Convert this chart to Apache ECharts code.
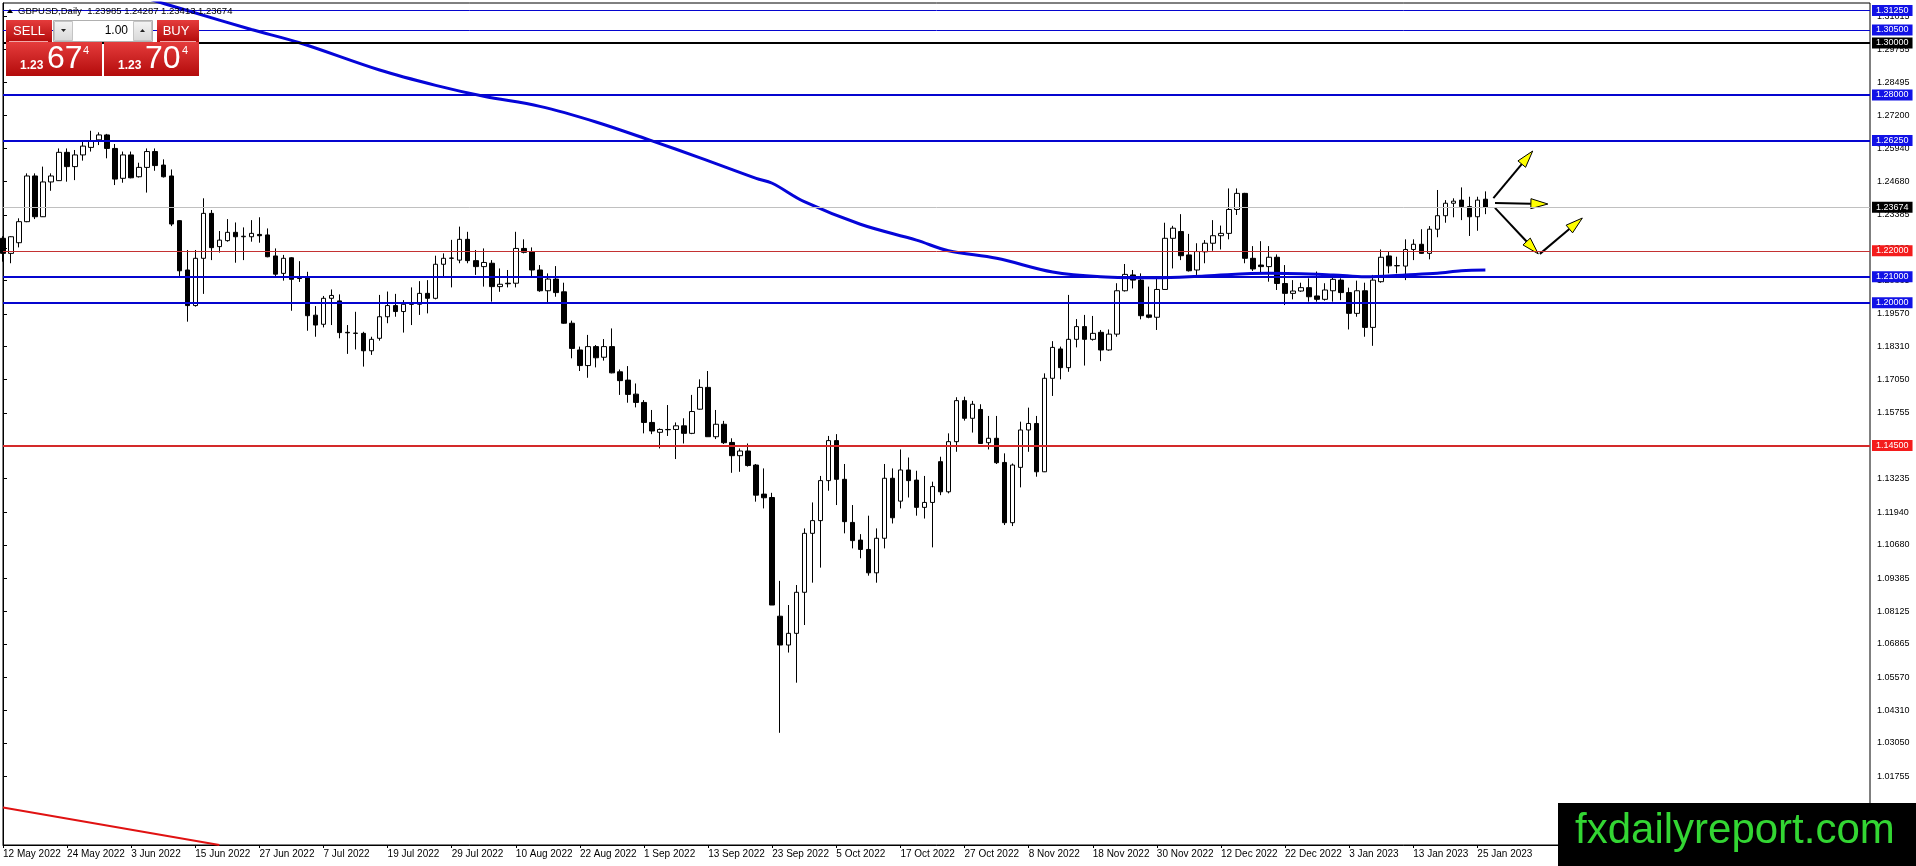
<!DOCTYPE html>
<html>
<head>
<meta charset="utf-8">
<script src="https://cdn.jsdelivr.net/npm/echarts@6.0.0/dist/echarts.min.js"></script>
<style>html,body{margin:0;padding:0;background:#fff;}#chart{width:1916px;height:866px;}</style>
</head>
<body>
<div id="chart"></div>
<script>
// ---------------- data ----------------
const startDate = '2022-05-12';
const slotCount = 234; // bars + empty right shift area
const opens = [1.2248,1.2190,1.2231,1.2312,1.2488,1.2331,1.2465,1.2470,1.2579,1.2524,
1.2569,1.2598,1.2627,1.2646,1.2594,1.2479,1.2569,1.2485,1.2521,1.2582,
1.2530,1.2488,1.2316,1.2126,1.1989,1.2171,1.2344,1.2216,1.2239,1.2271,
1.2254,1.2254,1.2263,1.2261,1.2180,1.2113,1.2173,1.2098,1.2098,1.1952,
1.1917,1.2017,1.2007,1.1886,1.1883,1.1882,1.1815,1.1863,1.1946,1.1989,
1.1966,1.1994,1.1994,1.2036,1.2017,1.2148,1.2171,1.2164,1.2244,1.2162,
1.2139,1.2152,1.2062,1.2075,1.2075,1.2209,1.2196,1.2126,1.2046,1.2091,
1.2042,1.1921,1.1818,1.1758,1.1831,1.1790,1.1831,1.1734,1.1702,1.1648,
1.1616,1.1539,1.1501,1.1512,1.1512,1.1526,1.1497,1.1590,1.1674,1.1484,
1.1532,1.1462,1.1411,1.1429,1.1375,1.1263,1.1250,1.0793,1.0682,1.0727,
1.0885,1.1112,1.1161,1.1315,1.1469,1.1320,1.1154,1.1086,1.1050,1.0960,
1.1093,1.1324,1.1236,1.1356,1.1317,1.1212,1.1231,1.1388,1.1272,1.1465,
1.1623,1.1555,1.1589,1.1461,1.1478,1.1385,1.1153,1.1366,1.1510,1.1535,
1.1349,1.1709,1.1822,1.1750,1.1859,1.1908,1.1859,1.1886,1.1818,1.1879,
1.2046,1.2107,1.2087,1.1953,1.1944,1.2051,1.2248,1.2274,1.2184,1.2126,
1.2196,1.2229,1.2258,1.2267,1.2359,1.2421,1.2171,1.2145,1.2139,1.2175,
1.2074,1.2036,1.2045,1.2058,1.2026,1.2013,1.2046,1.2087,1.2039,1.1959,
1.2046,1.1905,1.2081,1.2180,1.2142,1.2141,1.2205,1.2225,1.2190,1.2283,
1.2335,1.2383,1.2395,1.2370,1.2331,1.23985];
const highs = [1.2256,1.2256,1.2325,1.2498,1.2498,1.2524,1.2498,1.2594,1.2594,1.2588,
1.2620,1.2662,1.2656,1.2650,1.2611,1.2582,1.2582,1.2539,1.2594,1.2594,
1.2552,1.2513,1.2318,1.2203,1.2203,1.2402,1.2357,1.2276,1.2322,1.2309,
1.2290,1.2318,1.2329,1.2286,1.2209,1.2184,1.2175,1.2160,1.2119,1.1987,
1.2026,1.2051,1.2032,1.1914,1.1965,1.1888,1.1869,1.2030,1.2043,1.2034,
1.2010,1.2059,1.2083,1.2087,1.2181,1.2190,1.2242,1.2293,1.2273,1.2203,
1.2209,1.2164,1.2132,1.2126,1.2273,1.2244,1.2213,1.2145,1.2113,1.2141,
1.2077,1.1931,1.1831,1.1876,1.1837,1.1860,1.1901,1.1743,1.1756,1.1689,
1.1625,1.1587,1.1516,1.1606,1.1539,1.1555,1.1645,1.1705,1.1737,1.1587,
1.1545,1.1478,1.1439,1.1458,1.1379,1.1362,1.1268,1.0929,1.0836,1.0913,
1.1131,1.1231,1.1333,1.1487,1.1494,1.1379,1.1221,1.1109,1.1180,1.1131,
1.1379,1.1362,1.1435,1.1404,1.1353,1.1333,1.1311,1.1407,1.1497,1.1636,
1.1638,1.1622,1.1609,1.1564,1.1564,1.1420,1.1381,1.1542,1.1596,1.1564,
1.1728,1.1852,1.1831,1.2030,1.1937,1.1953,1.1949,1.1895,1.1897,1.2075,
1.2149,1.2126,1.2113,1.2062,1.2094,1.2308,1.2296,1.2341,1.2265,1.2229,
1.2241,1.2318,1.2297,1.2440,1.2440,1.2423,1.2218,1.2237,1.2218,1.2186,
1.2145,1.2087,1.2077,1.2094,1.2120,1.2075,1.2100,1.2094,1.2058,1.2085,
1.2077,1.2107,1.2205,1.2196,1.2177,1.2244,1.2244,1.2283,1.2295,1.2434,
1.2395,1.2402,1.2444,1.2408,1.2408,1.24287];
const lows = [1.2158,1.2152,1.2213,1.2310,1.2322,1.2330,1.2431,1.2469,1.2466,1.2472,
1.2547,1.2582,1.2607,1.2556,1.2453,1.2462,1.2479,1.2482,1.2424,1.2508,
1.2482,1.2295,1.2103,1.1927,1.1985,1.2034,1.2164,1.2193,1.2235,1.2154,
1.2164,1.2235,1.2231,1.2175,1.2103,1.2085,1.1969,1.2080,1.1892,1.1869,
1.1905,1.1914,1.1863,1.1803,1.1820,1.1754,1.1799,1.1854,1.1921,1.1946,
1.1885,1.1914,1.1953,1.1959,1.2013,1.2100,1.2059,1.2152,1.2152,1.2107,
1.2062,1.2004,1.2042,1.2059,1.2059,1.2190,1.2100,1.2042,1.2001,1.2023,
1.1919,1.1786,1.1737,1.1711,1.1751,1.1777,1.1728,1.1645,1.1615,1.1597,
1.1497,1.1494,1.1439,1.1487,1.1398,1.1458,1.1494,1.1588,1.1484,1.1475,
1.1456,1.1345,1.1349,1.1369,1.1234,1.1208,1.0836,1.0344,1.0653,1.0537,
1.0759,1.0922,1.0980,1.1276,1.1221,1.1112,1.1054,1.1016,1.0949,1.0922,
1.1054,1.1150,1.1208,1.1250,1.1180,1.1169,1.1058,1.1259,1.1266,1.1426,
1.1546,1.1500,1.1456,1.1435,1.1379,1.1144,1.1140,1.1289,1.1426,1.1330,
1.1348,1.1641,1.1705,1.1734,1.1828,1.1758,1.1854,1.1775,1.1815,1.1869,
1.2043,1.2055,1.1936,1.1940,1.1895,1.2049,1.2132,1.2164,1.2120,1.2107,
1.2152,1.2200,1.2205,1.2244,1.2338,1.2152,1.2122,1.2116,1.2081,1.2049,
1.1991,1.2013,1.2042,1.2004,1.2004,1.2008,1.2004,1.2010,1.1897,1.1946,
1.1869,1.1834,1.2077,1.2113,1.2113,1.2087,1.2164,1.2188,1.2167,1.2252,
1.2308,1.2329,1.2318,1.2257,1.2277,1.2341];
const closes = [1.2190,1.2254,1.2312,1.2488,1.2331,1.2465,1.2488,1.2579,1.2524,1.2569,
1.2603,1.2624,1.2646,1.2594,1.2476,1.2569,1.2481,1.2521,1.2582,1.2528,
1.2485,1.2303,1.2123,1.1989,1.2171,1.2344,1.2212,1.2241,1.2271,1.2254,
1.2256,1.2267,1.2258,1.2177,1.2110,1.2171,1.2090,1.2093,1.1950,1.1914,
1.2017,1.2028,1.1885,1.1884,1.1882,1.1815,1.1859,1.1946,1.1989,1.1966,
1.1994,1.1995,1.2036,1.2017,1.2148,1.2171,1.2172,1.2244,1.2162,1.2139,
1.2155,1.2062,1.2071,1.2073,1.2209,1.2194,1.2126,1.2046,1.2091,1.2039,
1.1921,1.1824,1.1758,1.1831,1.1788,1.1831,1.1730,1.1700,1.1647,1.1616,
1.1539,1.1506,1.1512,1.1511,1.1526,1.1497,1.1581,1.1674,1.1484,1.1532,
1.1461,1.1411,1.1429,1.1373,1.1259,1.1249,1.0836,1.0682,1.0727,1.0885,
1.1112,1.1161,1.1315,1.1469,1.1320,1.1157,1.1084,1.1050,1.0960,1.1093,
1.1324,1.1172,1.1356,1.1315,1.1212,1.1231,1.1292,1.1272,1.1465,1.1623,
1.1555,1.1609,1.1458,1.1478,1.1384,1.1153,1.1375,1.1510,1.1535,1.1349,
1.1709,1.1828,1.1750,1.1859,1.1908,1.1859,1.1882,1.1818,1.1879,1.2046,
1.2109,1.2087,1.1950,1.1944,1.2051,1.2248,1.2287,1.2181,1.2123,1.2197,
1.2229,1.2258,1.2267,1.2359,1.2421,1.2171,1.2130,1.2139,1.2175,1.2074,
1.2036,1.2045,1.2058,1.2023,1.2013,1.2049,1.2090,1.2039,1.1959,1.2046,
1.1905,1.2087,1.2175,1.2142,1.2143,1.2205,1.2225,1.2190,1.2283,1.2335,
1.2383,1.2391,1.2370,1.2331,1.2395,1.23674];
// moving average, [bar index, price]
const maPoints = [[16,1.3190],[23,1.3125],[31,1.3052],[37,1.3001],[47,1.2896],[54,1.2837],[60,1.2795],[67,1.2756],[74,1.2696],[81,1.2623],[87,1.2558],[94,1.2479],[96,1.2460],[100,1.2389],[107,1.2302],[114,1.2241],[118,1.2200],[124,1.2171],[131,1.2118],[137,1.2100],[144,1.2096],[150,1.2103],[158,1.2113],[166,1.2107],[170,1.2100],[175,1.2107],[179,1.2113],[182,1.2123],[185,1.2126]];
const trendLine = [[0,1.0056],[27,0.9912]];
// arrows: [x1, y1, x2, y2] in bar index / price
const arrows = [[186.0,1.2403,190.9,1.2584],[186.2,1.2384,192.8,1.2380],[186.2,1.2365,191.6,1.2188],[191.8,1.2188,197.1,1.2326]];
const levelValues = [1.3125,1.305,1.30,1.28,1.2625,1.23674,1.22,1.21,1.20,1.145];
const yTicks = [1.31015,1.29755,1.28495,1.27200,1.25940,1.24680,1.23385,1.22090,1.20865,1.19570,1.18310,1.17050,1.15755,1.14495,1.13235,1.11940,1.10680,1.09385,1.08125,1.06865,1.05570,1.04310,1.03050,1.01755];
const yMin = 0.9912, yMax = 1.3154;
const lastLabelIndex = 184, labelStep = 8;
const headerText = 'GBPUSD,Daily  1.23985 1.24287 1.23413 1.23674';

// ---------------- build ----------------
const MONTHS = ['Jan','Feb','Mar','Apr','May','Jun','Jul','Aug','Sep','Oct','Nov','Dec'];
const categories = [];
{
  let d = new Date(startDate + 'T00:00:00Z');
  while (categories.length < slotCount) {
    const wd = d.getUTCDay();
    if (wd !== 0 && wd !== 6) categories.push(d.toISOString().slice(0,10));
    d = new Date(d.getTime() + 86400000);
  }
}
function fmtDate(s){ const [y,m,dd] = s.split('-'); return parseInt(dd,10)+' '+MONTHS[parseInt(m,10)-1]+' '+y; }
const candles = opens.map((o,i)=>[o, closes[i], lows[i], highs[i]]);

const FONT = 'Liberation Sans, Arial, sans-serif';
const BLUE = '#0505cf', BLUEBG = '#1212e6', RED = '#d42a2a', REDBG = '#f41c1c';
const levelStyle = [
  {c:BLUE,w:1,bg:BLUEBG},{c:BLUE,w:1,bg:BLUEBG},{c:'#000',w:2,bg:'#000'},{c:BLUE,w:2,bg:BLUEBG},{c:BLUE,w:2,bg:BLUEBG},
  {c:'#c0c0c0',w:1,bg:'#000'},{c:'#c43232',w:1,bg:REDBG},{c:BLUE,w:2,bg:BLUEBG},{c:BLUE,w:2,bg:BLUEBG},{c:RED,w:2,bg:REDBG}
];
const markData = levelValues.map((v,i)=>({
  yAxis: v,
  lineStyle:{color:levelStyle[i].c, width:levelStyle[i].w, type:'solid'},
  label:{show:true, position:'end', distance:2, formatter: v.toFixed(5), color:'#fff', backgroundColor:levelStyle[i].bg,
    fontFamily:FONT, fontSize:9, padding:[1,4,0,4], lineHeight:10}
}));

const redGrad = {type:'linear',x:0,y:0,x2:0,y2:1,colorStops:[{offset:0,color:'#e53c3c'},{offset:1,color:'#b30b0b'}]};
const btnGrad = {type:'linear',x:0,y:0,x2:0,y2:1,colorStops:[{offset:0,color:'#f4f4f4'},{offset:1,color:'#d8d8d8'}]};
const txt = (x,y,t,size,opts)=>Object.assign({type:'text', x:x, y:y, z:100, style:Object.assign({text:t, fill:'#fff', font:size, verticalAlign:'middle', align:'left'}, opts||{})});

const chart = echarts.init(document.getElementById('chart'), null, {renderer:'canvas'});
chart.setOption({
  animation:false,
  backgroundColor:'#fff',
  grid:{left:3, right:46, top:3, bottom:21, show:true, borderColor:'#000', borderWidth:1, backgroundColor:'#fff'},
  xAxis:[{
    type:'category', data:categories, boundaryGap:false,
    axisLine:{show:true, lineStyle:{color:'#000', width:1}},
    axisTick:{show:true, length:3, lineStyle:{color:'#000'}, interval:(i)=> i % labelStep === 0 && i <= lastLabelIndex},
    axisLabel:{show:true, interval:(i)=> i % labelStep === 0 && i <= lastLabelIndex, formatter:(v)=>fmtDate(v),
      align:'left', margin:4, color:'#000', fontFamily:FONT, fontSize:10},
    splitLine:{show:false}
  },{
    type:'value', min:0, max:slotCount-1, show:false
  }],
  yAxis:{
    type:'value', position:'right', min:yMin, max:yMax, scale:true,
    axisLine:{show:true, lineStyle:{color:'#000', width:1}},
    axisTick:{show:true, length:4, inside:false, lineStyle:{color:'#000'}, customValues:yTicks},
    axisLabel:{show:true, customValues:yTicks, formatter:(v)=>v.toFixed(5), margin:7, color:'#000', fontFamily:FONT, fontSize:9},
    splitLine:{show:false}
  },
  series:[
    {
      type:'candlestick', data:candles, xAxisIndex:0, barWidth:5, clip:true,
      itemStyle:{color:'#fff', color0:'#000', borderColor:'#000', borderColor0:'#000', borderWidth:1},
      markLine:{silent:true, precision:5, symbol:['none','none'], animation:false, data:markData}
    },
    {
      type:'line', xAxisIndex:1, data:maPoints, symbol:'none', smooth:0.35, clip:true,
      lineStyle:{color:'#0505d8', width:3}, z:3
    },
    {
      type:'line', xAxisIndex:1, data:trendLine, symbol:'none', clip:true,
      lineStyle:{color:'#e01212', width:2}, z:3
    },
    {
      type:'custom', xAxisIndex:1, data:arrows, z:4, clip:false,
      encode:{x:[0,2], y:[1,3]},
      renderItem:function(params, api){
        const p1 = api.coord([api.value(0), api.value(1)]);
        const p2 = api.coord([api.value(2), api.value(3)]);
        const dx = p2[0]-p1[0], dy = p2[1]-p1[1];
        const len = Math.sqrt(dx*dx+dy*dy) || 1;
        const ux = dx/len, uy = dy/len, px = -uy, py = ux;
        const L = 17, W = 5;
        const bx = p2[0]-ux*L, by = p2[1]-uy*L;
        return {type:'group', children:[
          {type:'line', shape:{x1:p1[0], y1:p1[1], x2:bx, y2:by}, style:{stroke:'#000', lineWidth:2}},
          {type:'polygon', shape:{points:[[p2[0],p2[1]],[bx+px*W,by+py*W],[bx-px*W,by-py*W]]}, style:{fill:'#ffff00', stroke:'#000', lineWidth:1}}
        ]};
      }
    }
  ],
  graphic:[
    {type:'polygon', z:100, shape:{points:[[7,13],[10,9],[13,13]]}, style:{fill:'#000'}},
    txt(18, 11, headerText, '9.5px '+FONT, {fill:'#000'}),
    {type:'rect', z:100, shape:{x:6,y:20,width:46,height:22}, style:{fill:redGrad}},
    txt(29, 31, 'SELL', '13px '+FONT, {align:'center'}),
    {type:'line', z:101, shape:{x1:9,y1:41.5,x2:48,y2:41.5}, style:{stroke:'#f0a8a8', lineWidth:1}},
    {type:'rect', z:100, shape:{x:53.5,y:20.5,width:99,height:21}, style:{fill:'#fff', stroke:'#b0b0b0', lineWidth:1}},
    {type:'rect', z:101, shape:{x:54.5,y:21.5,width:18,height:19}, style:{fill:btnGrad, stroke:'#c4c4c4', lineWidth:1}},
    {type:'polygon', z:102, shape:{points:[[61,29],[66,29],[63.5,32]]}, style:{fill:'#222'}},
    {type:'rect', z:101, shape:{x:133.5,y:21.5,width:18,height:19}, style:{fill:btnGrad, stroke:'#c4c4c4', lineWidth:1}},
    {type:'polygon', z:102, shape:{points:[[140,32],[145,32],[142.5,29]]}, style:{fill:'#222'}},
    txt(128, 30.5, '1.00', '12px '+FONT, {fill:'#000', align:'right'}),
    {type:'rect', z:100, shape:{x:157,y:20,width:42,height:22}, style:{fill:redGrad}},
    txt(176, 31, 'BUY', '13px '+FONT, {align:'center'}),
    {type:'line', z:101, shape:{x1:160,y1:41.5,x2:196,y2:41.5}, style:{stroke:'#f0a8a8', lineWidth:1}},
    {type:'rect', z:100, shape:{x:6,y:42,width:96,height:34}, style:{fill:redGrad}},
    {type:'rect', z:100, shape:{x:104,y:42,width:95,height:34}, style:{fill:redGrad}},
    txt(20, 66, '1.23', 'bold 12px '+FONT),
    txt(47, 59, '67', '32px '+FONT),
    txt(83, 51, '4', '11px '+FONT),
    txt(118, 66, '1.23', 'bold 12px '+FONT),
    txt(145, 59, '70', '32px '+FONT),
    txt(182, 51, '4', '11px '+FONT),
    {type:'rect', z:100, shape:{x:1558,y:803,width:358,height:63}, style:{fill:'#000'}},
    txt(1575, 831, 'fxdailyreport.com', '42px '+FONT, {fill:'#33d633'})
  ]
});
</script>
</body>
</html>
